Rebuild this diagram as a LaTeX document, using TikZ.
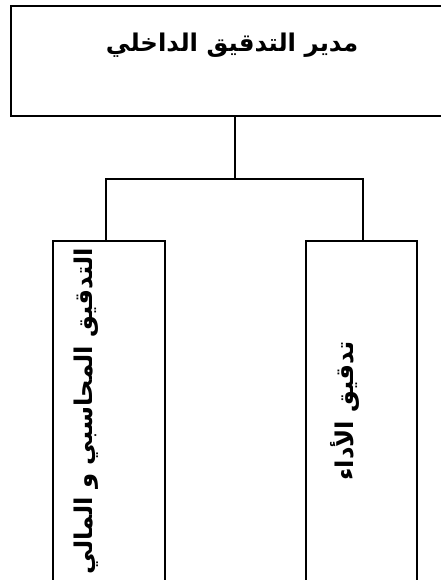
\documentclass[tikz,border=0pt]{standalone}
\usepackage{fontspec}
\newfontfamily\arabicfont[Script=Arabic]{DejaVu Sans}
\TeXXeTstate=1
\tikzset{
  frame/.style={draw=black, line width=1.5bp},
  link/.style={draw=black, line width=1.3bp},
  label/.style={font=\arabicfont\bfseries\fontsize{24.5}{29}\selectfont, inner sep=0pt}
}
\begin{document}
\begin{tikzpicture}[x=1bp,y=-1bp]
  \useasboundingbox (0,0) rectangle (441,580);
  \clip (0,0) rectangle (441,580);
  % boxes (bottom and right edges run off the page)
  \draw[frame] (11,6) rectangle (450,116);
  \draw[frame] (53,241) rectangle (165,600);
  \draw[frame] (306,241) rectangle (417,600);
  % connector coordinates
  \coordinate (top) at (235,116);
  \coordinate (bus) at (235,179);
  \coordinate (busL) at (106,179);
  \coordinate (busR) at (363,179);
  \coordinate (inL) at (106,241);
  \coordinate (inR) at (363,241);
  \draw[link] (top) -- (bus);
  \draw[link] (inL) -- (busL) -- (busR) -- (inR);
  % labels
  \node[label] (head) at (232,45) {\beginR مدير التدقيق الداخلي\endR};
  \node[label, rotate=90] (acc) at (86,411) {\beginR التدقيق المحاسبي و المالي\endR};
  \node[label, rotate=90] (perf) at (345,411) {\beginR تدقيق الأداء\endR};
\end{tikzpicture}
\end{document}
